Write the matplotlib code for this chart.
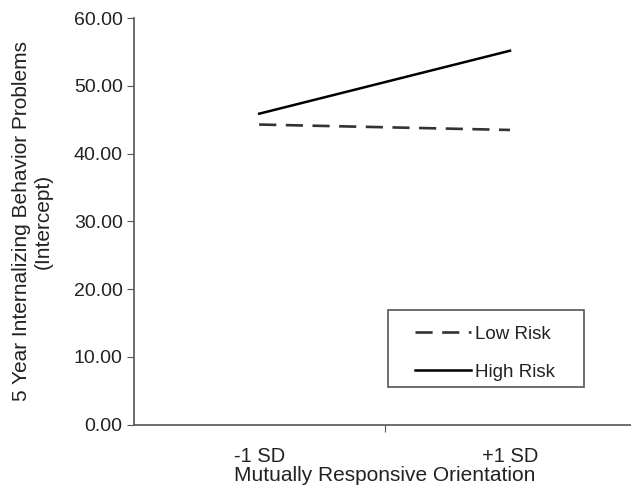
import matplotlib
matplotlib.use("Agg")
import matplotlib.pyplot as plt
from matplotlib.patches import Rectangle

plt.rcParams["font.family"] = ["Liberation Sans", "DejaVu Sans"]

categories = ["-1 SD", "+1 SD"]
low_risk = [44.3, 43.5]
high_risk = [45.9, 55.2]
y_ticks = [0, 10, 20, 30, 40, 50, 60]

text_color = "#222222"
axis_color = "#555555"

fig = plt.figure(figsize=(6.31, 4.92), dpi=100)
ax = fig.add_axes([0.212, 0.137, 0.795, 0.826])

positions = [0.5, 1.5]
ax.plot(positions, low_risk, color="#333333", linewidth=1.9,
        dashes=(6.5, 3.6), label="Low Risk")
ax.plot(positions, high_risk, color="black", linewidth=1.8, label="High Risk")

ax.set_xlim(0, 2)
ax.set_ylim(0, 60)
ax.set_yticks(y_ticks)
ax.set_yticklabels([f"{v:.2f}" for v in y_ticks], fontsize=14, color=text_color)
ax.set_xticks([1])
ax.set_xticklabels([])
ax.set_xticks(positions, minor=True)
ax.set_xticklabels(categories, minor=True, fontsize=14.5, color=text_color)
ax.tick_params(axis="x", which="minor", length=0, pad=16)
ax.tick_params(axis="both", which="major", color=axis_color, length=5, direction="out")
ax.tick_params(axis="y", pad=3)

for side in ["top", "right"]:
    ax.spines[side].set_visible(False)
for side in ["left", "bottom"]:
    ax.spines[side].set_color(axis_color)
    ax.spines[side].set_linewidth(1.2)

ax.set_xlabel("Mutually Responsive Orientation", fontsize=15, color=text_color, labelpad=0)
ax.set_ylabel("5 Year Internalizing Behavior Problems\n(Intercept)", fontsize=15,
              color=text_color, labelpad=15, linespacing=1.2)

# legend box drawn separately so the padding can differ per side
ax.add_patch(Rectangle((0.506, 0.0935), 0.391, 0.189, transform=ax.transAxes,
                       facecolor="white", edgecolor=axis_color, linewidth=1.2,
                       zorder=3, clip_on=False))
leg = ax.legend(loc="upper left", bbox_to_anchor=(0.56, 0.243), fontsize=13.5,
                frameon=False, handlelength=3.0, handletextpad=0.2,
                borderpad=0, labelspacing=1.1, borderaxespad=0)
leg.set_zorder(4)
for t in leg.get_texts():
    t.set_color(text_color)

fig.savefig("out.png", dpi=100)
